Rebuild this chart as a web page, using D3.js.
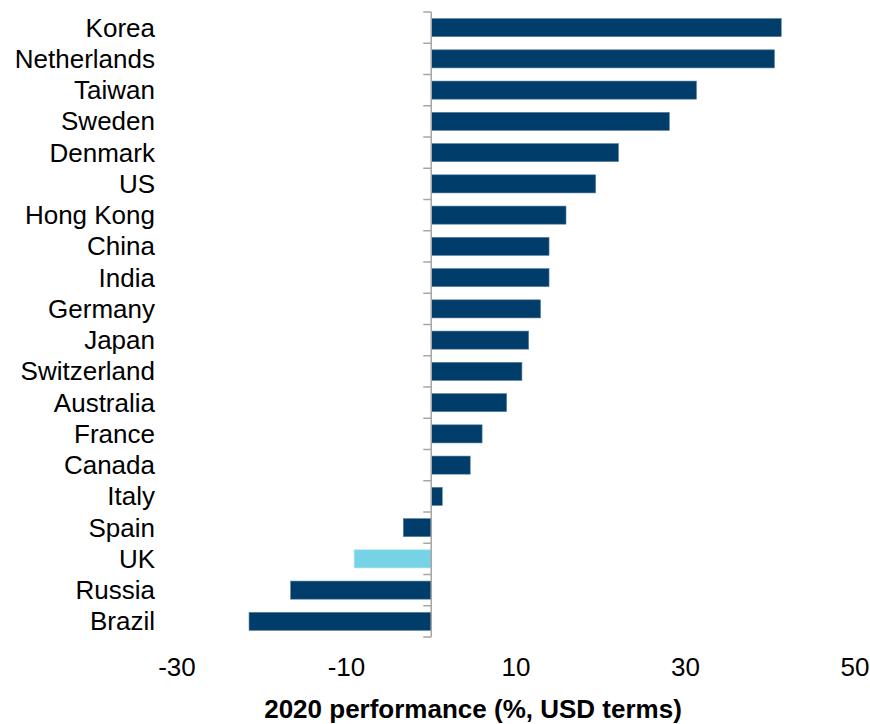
<!DOCTYPE html>
<html><head><meta charset="utf-8">
<script src="https://cdn.jsdelivr.net/npm/d3@7/dist/d3.min.js"></script>
<style>body{margin:0;background:#fff;font-family:"Liberation Sans",Arial,sans-serif;}</style>
</head><body><svg id="c" width="870" height="724"></svg>
<script>
const countries = ["Korea","Netherlands","Taiwan","Sweden","Denmark","US","Hong Kong","China","India","Germany","Japan","Switzerland","Australia","France","Canada","Italy","Spain","UK","Russia","Brazil"];
const performance = [41.3,40.5,31.3,28.1,22.1,19.4,15.9,13.9,13.9,12.9,11.5,10.7,8.9,6.0,4.6,1.3,-3.3,-9.1,-16.6,-21.5];
const xTicks = [-30,-10,10,30,50];
const highlight = ["UK"];
const xTitle = "2020 performance (%, USD terms)";

const svg = d3.select("#c");
const x = d3.scaleLinear().domain([-30,50]).range([177,855]);
const y = d3.scaleBand().domain(countries).range([12,637]).paddingInner(0.42).paddingOuter(0.21);

svg.selectAll("rect.bar").data(countries).enter().append("rect")
  .attr("class","bar")
  .attr("x",(d,i)=>x(Math.min(0,performance[i])))
  .attr("width",(d,i)=>Math.abs(x(performance[i])-x(0)))
  .attr("y",d=>y(d))
  .attr("height",y.bandwidth())
  .attr("fill",d=>highlight.includes(d)?"#76d3e6":"#003d6b")
  .attr("stroke",d=>highlight.includes(d)?"#a8e4f0":"#5f83a3")
  .attr("stroke-width",0.6);

// category axis at zero
const yAxisG = svg.append("g").attr("transform",`translate(${x(0)},0)`);
yAxisG.append("line").attr("x1",0).attr("x2",0).attr("y1",12).attr("y2",637).attr("stroke","#a6a6a6").attr("stroke-width",1.5);
const step = y.step();
const bounds = countries.map((d,i)=>12+i*step).concat([637]);
yAxisG.selectAll("line.tk").data(bounds).enter().append("line")
  .attr("class","tk").attr("x1",-8).attr("x2",0).attr("y1",d=>d).attr("y2",d=>d)
  .attr("stroke","#a6a6a6").attr("stroke-width",1.5);

// category labels
svg.selectAll("text.cat").data(countries).enter().append("text")
  .attr("class","cat").attr("x",155).attr("y",d=>y(d)+y.bandwidth()/2)
  .attr("dy","0.35em").attr("text-anchor","end")
  .attr("font-size",26).attr("fill","#000").text(d=>d);

// x tick labels
svg.selectAll("text.xt").data(xTicks).enter().append("text")
  .attr("class","xt").attr("x",d=>x(d)).attr("y",667).attr("dy","0.35em")
  .attr("text-anchor","middle").attr("font-size",26).attr("fill","#000").text(d=>d);

svg.append("text").attr("x",473).attr("y",709).attr("dy","0.35em").attr("text-anchor","middle")
  .attr("font-size",26).attr("font-weight","bold").attr("fill","#000").text(xTitle);
</script></body></html>
